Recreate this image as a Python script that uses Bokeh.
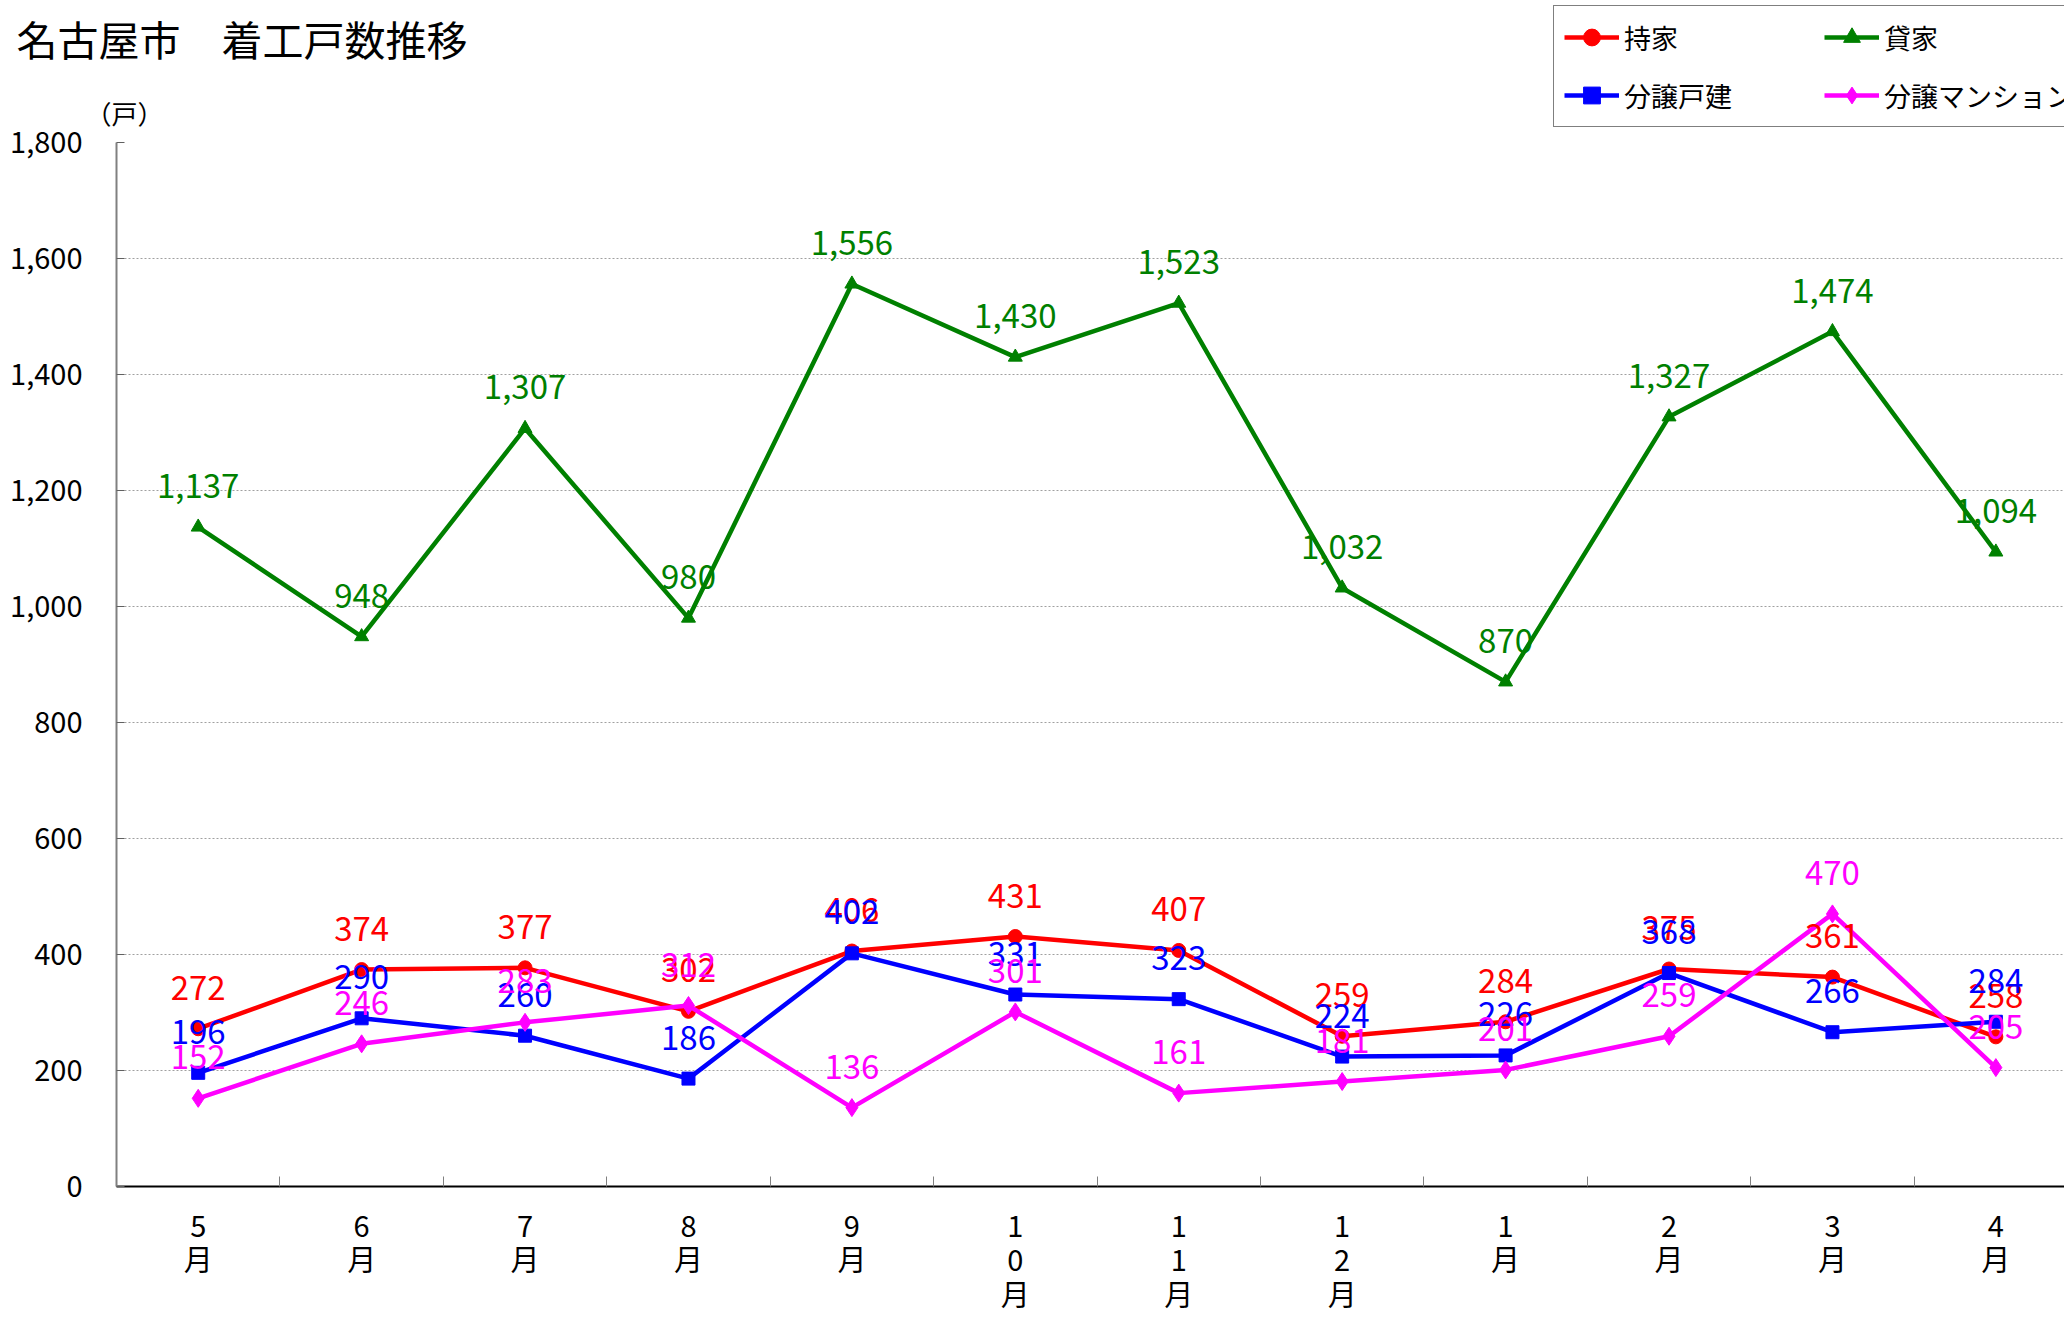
from bokeh.plotting import figure
from bokeh.layouts import column, row
from bokeh.models import (Range1d, FixedTicker, NumeralTickFormatter, Legend,
                          LegendItem, Label, ColumnDataSource)
from bokeh.core.properties import value
from bokeh.embed import file_html
from bokeh.resources import INLINE

# ---- data ----
months = ["5月", "6月", "7月", "8月", "9月", "10月", "11月", "12月", "1月", "2月", "3月", "4月"]
mochiie = [272, 374, 377, 302, 406, 431, 407, 259, 284, 375, 361, 258]          # 持家
kashiya = [1137, 948, 1307, 980, 1556, 1430, 1523, 1032, 870, 1327, 1474, 1094]  # 貸家
bunjo_kodate = [196, 290, 260, 186, 402, 331, 323, 224, 226, 368, 266, 284]      # 分譲戸建
bunjo_mansion = [152, 246, 283, 312, 136, 301, 161, 181, 201, 259, 470, 205]     # 分譲マンション
y_ticks = [0, 200, 400, 600, 800, 1000, 1200, 1400, 1600, 1800]

series_names = ["持家", "貸家", "分譲戸建", "分譲マンション"]
title_text = "名古屋市　着工戸数推移"
unit_text = "（戸）"

FONT = "Noto Sans CJK JP"
W = 2064
TOP_H = 130
MAIN_H = 1317 - TOP_H

colors = ["#FF0000", "#008000", "#0000FF", "#FF00FF"]
markers = ["circle", "triangle", "square", "diamond"]
sizes = [14, 14, 13, 18]
data = [mochiie, kashiya, bunjo_kodate, bunjo_mansion]
xi = list(range(len(months)))

# ---------- header strip: title, unit, legend ----------
top = figure(width=W, height=TOP_H, output_backend="svg", toolbar_location=None,
             x_axis_location=None, y_axis_location=None, min_border=0,
             x_range=Range1d(-100, -99), y_range=Range1d(-100, -99))
top.outline_line_color = None
top.grid.visible = False

items = []
for name, vals, col, mk, sz in zip(series_names, data, colors, markers, sizes):
    # same series (out of this strip's view) -> only used for the legend glyphs
    src = ColumnDataSource(dict(x=xi, y=vals))
    rl = top.line("x", "y", source=src, line_color=col, line_width=4.5)
    rs = top.scatter("x", "y", source=src, marker=mk, size=sz,
                     fill_color=col, line_color=col)
    items.append(LegendItem(label=name, renderers=[rl, rs]))

legend = Legend(items=items, location=(1553, 3), orientation="horizontal", ncols=2,
                glyph_width=55, glyph_height=42, label_standoff=5, label_width=184,
                label_height=42, spacing=16, padding=10,
                border_line_color="black", border_line_width=1.5,
                label_text_font=FONT, label_text_font_size="27px",
                label_text_color="black", background_fill_color="white",
                background_fill_alpha=1)
top.add_layout(legend)

top.add_layout(Label(x=16, y=37, x_units="canvas", y_units="canvas", text=title_text,
                     text_font=FONT, text_font_size="41px", text_color="black",
                     text_align="left", text_baseline="middle"))
top.add_layout(Label(x=124, y=130, x_units="canvas", y_units="canvas", text=unit_text,
                     text_font=FONT, text_font_size="26px", text_color="black",
                     text_align="center", text_baseline="bottom"))

# ---------- main chart ----------
p = figure(width=W, height=MAIN_H, output_backend="svg", toolbar_location=None,
           x_range=Range1d(-0.5, 11.42), y_range=Range1d(0, 1800),
           min_border_left=116, min_border_top=12, min_border_right=0,
           min_border_bottom=130)
p.outline_line_color = None

p.xaxis.ticker = FixedTicker(ticks=xi, minor_ticks=[i - 0.5 for i in range(len(months) + 1)])
p.xaxis.major_label_overrides = {i: "\n".join(m) for i, m in enumerate(months)}
p.xaxis.major_tick_line_color = None
p.xaxis.major_tick_in = 0
p.xaxis.major_tick_out = 0
p.xaxis.minor_tick_in = 10
p.xaxis.minor_tick_out = 0
p.xaxis.minor_tick_line_color = "#808080"
p.xaxis.axis_line_color = "black"
p.xaxis.axis_line_width = 2
p.xaxis.major_label_text_font = FONT
p.xaxis.major_label_text_font_size = "29px"
p.xaxis.major_label_text_line_height = 0.83
p.xaxis.major_label_text_color = "black"
p.xaxis.major_label_standoff = 16
p.xgrid.visible = False

p.yaxis.ticker = FixedTicker(ticks=y_ticks)
p.yaxis.formatter = NumeralTickFormatter(format="0,0")
p.yaxis.axis_line_color = "#808080"
p.yaxis.axis_line_width = 2
p.yaxis.major_tick_in = 8
p.yaxis.major_tick_out = 0
p.yaxis.major_tick_line_color = "#606060"
p.yaxis.minor_tick_line_color = None
p.yaxis.major_label_text_font = FONT
p.yaxis.major_label_text_font_size = "29px"
p.yaxis.major_label_text_color = "black"
p.yaxis.major_label_standoff = 34
p.ygrid.ticker = FixedTicker(ticks=y_ticks)
p.ygrid.grid_line_color = "#a0a0a0"
p.ygrid.grid_line_dash = "2 2"

for vals, col, mk, sz in zip(data, colors, markers, sizes):
    src = ColumnDataSource(dict(x=xi, y=vals))
    p.line("x", "y", source=src, line_color=col, line_width=4.5)
    p.scatter("x", "y", source=src, marker=mk, size=sz, fill_color=col, line_color=col)

for vals, col in zip(data, colors):
    src = ColumnDataSource(dict(x=xi, y=vals, label=[f"{v:,}" for v in vals]))
    p.text("x", "y", text="label", source=src, text_color=col,
           text_font=value(FONT), text_font_size="33px",
           text_align="center", text_baseline="middle", y_offset=-41)

layout = column(row(top, spacing=0), p, spacing=0)
open("out.html", "w").write(file_html(layout, INLINE))
